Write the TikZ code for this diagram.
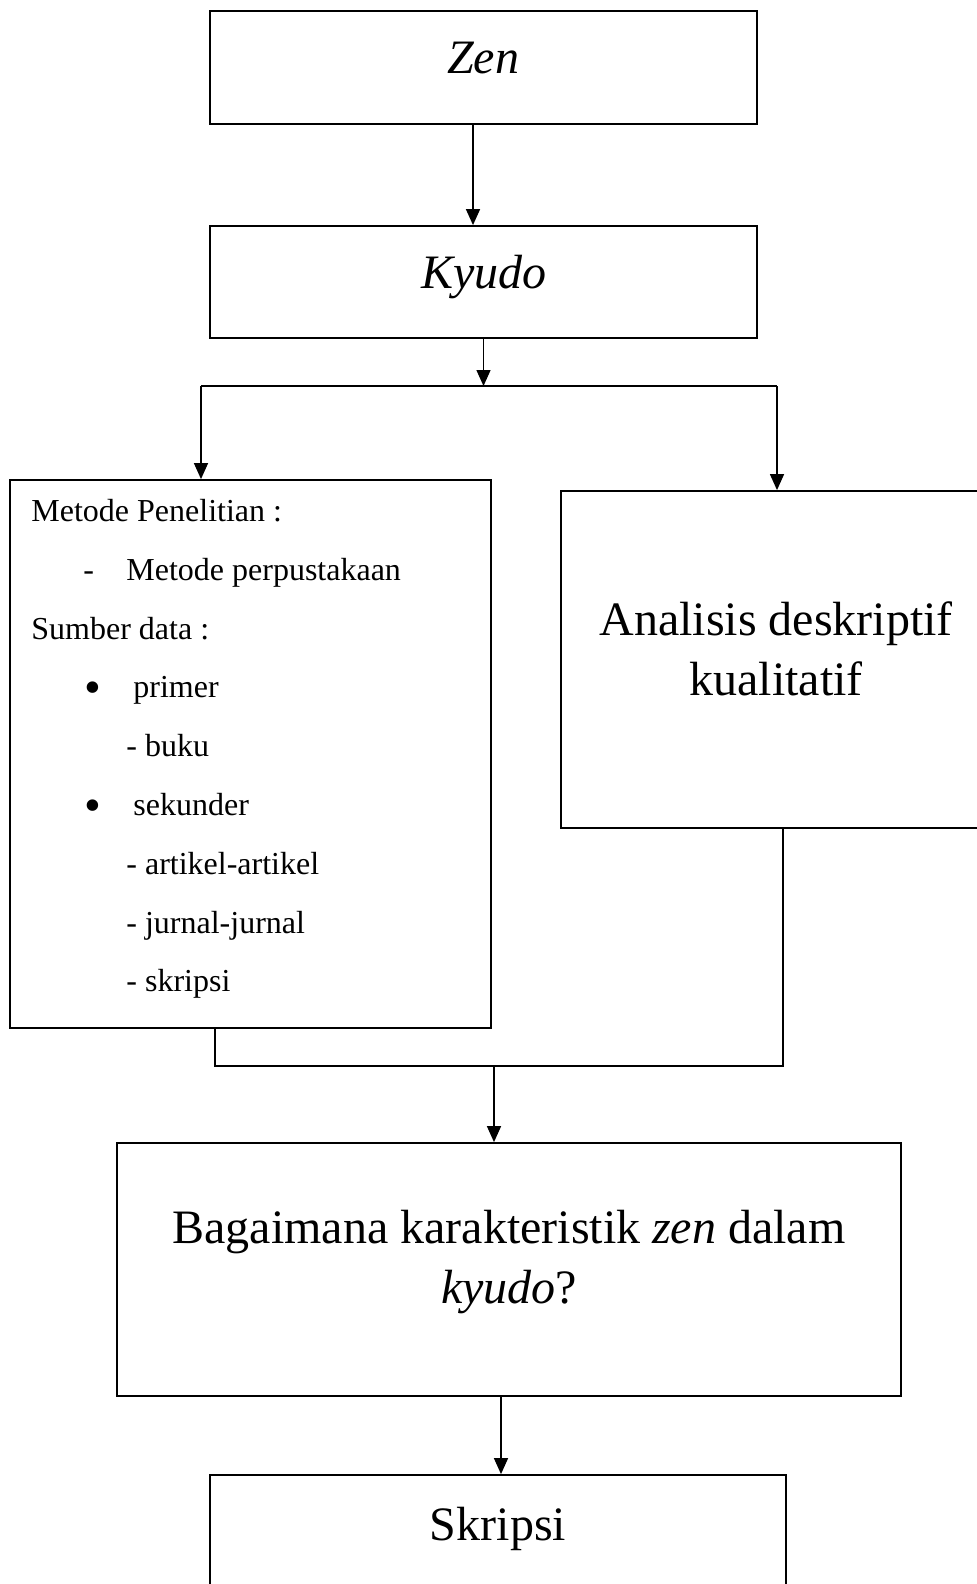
\documentclass[tikz,border=0pt]{standalone}
\usepackage{fontspec}
\setmainfont{Liberation Serif}
\usetikzlibrary{positioning, arrows.meta, fit, calc}

\begin{document}
\begin{tikzpicture}[
    x=0.5pt, y=-0.5pt,
    box/.style={draw, line width=0.9pt, inner sep=0pt},
    big/.style={font=\fontsize{24}{30}\selectfont, align=center, inner sep=0pt},
    small/.style={font=\fontsize{16}{19}\selectfont, anchor=base west, inner sep=0pt},
    dot/.style={font=\fontsize{24}{24}\selectfont, anchor=base, inner sep=0pt},
    link/.style={line width=0.7pt},
    arr/.style={link, -{Triangle[length=8pt, width=7pt]}}
  ]
  \path[use as bounding box, fill=white] (0,0) rectangle (977,1584);
  \def\lh{58.8}
  \def\ly{521.5}
  % boxes
  \node[box, fit={(210,11) (757,124)}] (zen) {};
  \node[box, fit={(210,226) (757,338)}] (kyudo) {};
  \node[box, fit={(10,480) (491,1028)}] (metode) {};
  \node[box, fit={(561,491) (991,828)}] (analisis) {};
  \node[box, fit={(117,1143) (901,1396)}] (bagaimana) {};
  \node[box, fit={(210,1475) (786,1600)}] (skripsi) {};

  % texts
  \node[big, anchor=base] (zentxt) at (483,74) {\textit{Zen}};
  \node[big, anchor=base] (kyutxt) at (484,288) {\textit{Kyudo}};
  \node[big] (analtxt) at (776,649) {Analisis deskriptif\\kualitatif};
  \node[big] (bagtxt) at (509,1262) {Bagaimana karakteristik \textit{zen} dalam\\\textit{kyudo}?};
  \node[big, anchor=base] (skrtxt) at (498,1540) {Skripsi};

  % list in the left box
  \foreach \k/\xx/\t in {0/31/Metode Penelitian :, 1/126/Metode perpustakaan,
      2/31/Sumber data :, 3/133/primer, 4/126/- buku, 5/133/sekunder,
      6/126/- artikel-artikel, 7/126/- jurnal-jurnal, 8/126/- skripsi}
    \node[small] (ln\k) at (\xx, \ly+\lh*\k) {\t};
  \node[small] (dash) at (83, \ly+\lh) {-};
  \node[dot] (bul1) at (93, \ly+3*\lh+6) {•};
  \node[dot] (bul2) at (93, \ly+5*\lh+6) {•};

  % connectors
  \coordinate (zk) at (473,150);
  \draw[arr] (zen.south -| zk) -- (kyudo.north -| zk);
  \coordinate (bl) at (201,386);
  \coordinate (br) at (777,386);
  \draw[arr] (kyudo.south) -- (kyudo.south |- bl);
  \draw[link] (bl) -- (br);
  \draw[arr] (bl) -- (bl |- metode.north);
  \draw[arr] (br) -- (br |- analisis.north);

  \coordinate (jl) at (215,1066);
  \coordinate (jr) at (783,1066);
  \coordinate (jm) at (494,1066);
  \draw[link] (metode.south -| jl) -- (jl) -- (jr) -- (analisis.south -| jr);
  \draw[arr] (jm) -- (jm |- bagaimana.north);
  \coordinate (sk) at (501,1420);
  \draw[arr] (bagaimana.south -| sk) -- (skripsi.north -| sk);
\end{tikzpicture}
\end{document}
